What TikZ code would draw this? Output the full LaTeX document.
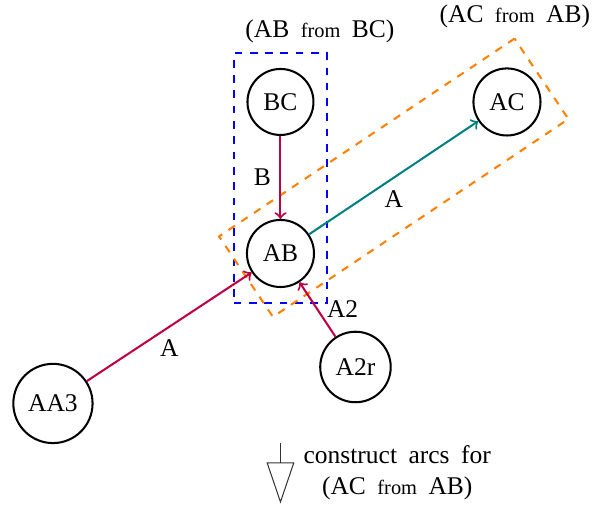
\documentclass[tikz,border=0pt]{standalone}
\usepackage{fontspec}
\setmainfont{Liberation Serif}[WordSpace=1.8]
\usetikzlibrary{fit,calc}

\begin{document}
\begin{tikzpicture}[
  thick,  vertex/.style={circle,draw,inner sep=4pt},  arc/.style={->,draw=purple},  fitbox/.style={draw,dashed,inner sep=0pt}
]
  \useasboundingbox (-3.867,-3.481) rectangle (4.433,3.495);
  \node[vertex] (AB) at (0.000,0.000) {AB};
  \node[vertex] (BC) at (0.000,2.089) {BC};
  \node[vertex] (AC) at (3.123,2.089) {AC};
  \node[vertex] (AA3) at (-3.137,-2.068) {AA3};
  \node[vertex] (A2r) at (1.034,-1.565) {A2r};
  \node[fitbox,blue,fit=(BC)(AB),inner xsep=4.8pt,inner ysep=5.8pt] (fAB) {};
  \node[fitbox,orange,rotate=33.8,minimum width=139.5pt,minimum height=38pt] (fAC) at ($(AB)!0.5!(AC)$) {};
  \node[above,xshift=15.5pt] (lAB) at (fAB.north) {(AB {\footnotesize from} BC)};
  \node[above] (lAC) at (fAC.north east) {(AC {\footnotesize from} AB)};
  \draw[arc] (BC) -- node[left] {B} (AB);
  \draw[->,draw=teal] (AB) -- node[below=1.5pt] {A} (AC);
  \draw[arc] (AA3) -- node[below=1.5pt] {A} (AB);
  \draw[arc] (A2r) -- node[right] {A2} (AB);
  % next step
  \draw[thin,black!80] (0.000,-2.613) -- (0.000,-2.888);
  \draw[thin,black!80] (-0.183,-2.888) -- (0.183,-2.888) -- (0.000,-3.426) -- cycle;
  \node[align=center] (step) at (1.610,-3.026) {construct arcs for\\(AC {\footnotesize from} AB)};
\end{tikzpicture}
\end{document}
